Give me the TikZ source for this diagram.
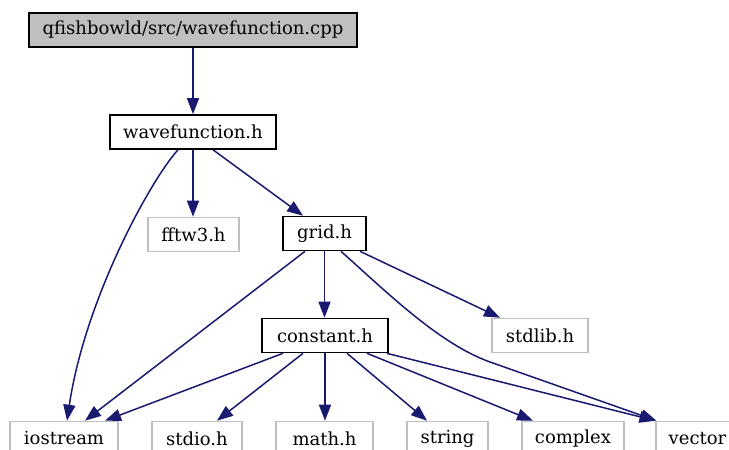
\documentclass[tikz,border=0pt]{standalone}
\usepackage{fontspec}
\setmainfont{DejaVu Serif}
\usetikzlibrary{arrows.meta}
\definecolor{edgeblue}{HTML}{191970}
\definecolor{boxgray}{HTML}{BFBFBF}
\tikzset{
  filebox/.style={draw=black, line width=1.6pt, rectangle, inner sep=0pt,
    minimum height=34pt, font=\fontsize{18}{21}\selectfont},
  extbox/.style={filebox, draw=boxgray},
  dep/.style={draw=edgeblue, line width=1.5pt,
    -{Triangle[length=16pt,width=12pt]}},
}
\begin{document}
\begin{tikzpicture}[x=1pt,y=-1pt]
\useasboundingbox (0,0) rectangle (729,450);
% include graph nodes
\node[filebox, fill=boxgray, minimum width=328pt] (cpp) at (193,30) {qfishbowld/src/wavefunction.cpp};
\node[filebox, minimum width=166pt] (wf) at (193,132) {wavefunction.h};
\node[extbox, minimum width=91pt] (fftw) at (193.5,234.5) {fftw3.h};
\node[filebox, minimum width=83pt] (grid) at (324.5,233.5) {grid.h};
\node[filebox, minimum width=126pt] (constant) at (325,335.5) {constant.h};
\node[extbox, minimum width=96pt] (stdlib) at (540,335.5) {stdlib.h};
\node[extbox, minimum width=108pt] (iostream) at (64,438.5) {iostream};
\node[extbox, minimum width=90pt] (stdio) at (197,438.5) {stdio.h};
\node[extbox, minimum width=97pt] (math) at (324.5,438.5) {math.h};
\node[extbox, minimum width=81pt] (string) at (447.5,438.5) {string};
\node[extbox, minimum width=102pt] (complex) at (573,438.5) {complex};
\node[extbox, minimum width=83pt] (vector) at (697.5,438.5) {vector};
% dependency edges
\coordinate (bend) at (490,362);
\draw[dep] (cpp.south) -- (wf.north);
\draw[dep] ([xshift=-15pt]wf.south) .. controls +(-28,31) and +(18,-121) .. ([xshift=3pt]iostream.north);
\draw[dep] (wf.south) -- (wf.south |- fftw.north);
\draw[dep] ([xshift=20pt]wf.south) -- ([xshift=-21.5pt]grid.north);
\draw[dep] ([xshift=-19.5pt]grid.south) -- ([xshift=21pt]iostream.north);
\draw[dep] (grid.south) -- (grid.south |- constant.north);
\draw[dep] ([xshift=35.5pt]grid.south) -- ([xshift=-40pt]stdlib.north);
\draw[dep] ([xshift=16.5pt]grid.south) .. controls +(49,44) and +(-50,-18) .. (bend) -- ([xshift=-41pt]vector.north);
\draw[dep] ([xshift=-42pt]constant.south) -- ([xshift=41pt]iostream.north);
\draw[dep] ([xshift=-22pt]constant.south) -- ([xshift=20pt]stdio.north);
\draw[dep] (constant.south) -- (constant.south |- math.north);
\draw[dep] ([xshift=22pt]constant.south) -- ([xshift=-20.5pt]string.north);
\draw[dep] ([xshift=42pt]constant.south) -- ([xshift=-40pt]complex.north);
\draw[dep] ([xshift=-2pt]constant.south east) -- ([xshift=-42pt]vector.north);
\end{tikzpicture}
\end{document}
